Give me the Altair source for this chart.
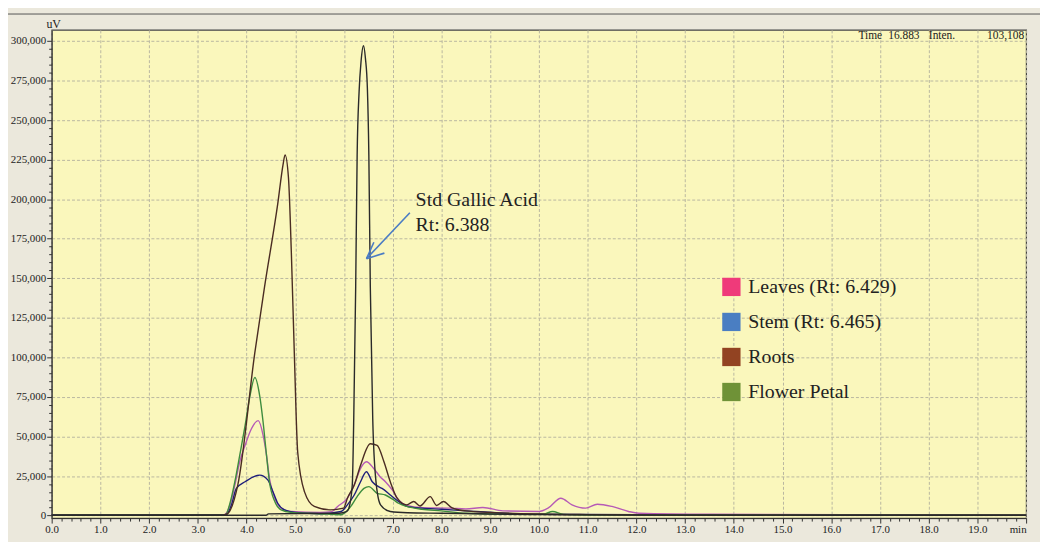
import altair as alt
import pandas as pd

# ---- data (retention time in min, intensity in uV) ----
series_names = ["Leaves", "Stem", "Flower Petal", "Roots", "Std Gallic Acid"]
line_colors = ["#b65ab6", "#1e1e7a", "#3e8c3e", "#4a2c22", "#2a2a2a"]

std_t = [0, 3.5, 4.4, 4.45, 5.9, 6.05, 6.1, 6.17, 6.2, 6.24, 6.27, 6.31, 6.35, 6.40, 6.44, 6.48,
         6.51, 6.54, 6.59, 6.65, 6.75, 6.95, 7.3, 8.0, 9.0, 10.0, 12.0, 20.0]
std_v = [200, 200, 200, 1100, 1500, 2500, 4700, 19300, 61000, 144700, 228000, 268000, 287000, 297000,
         289000, 270000, 228000, 144700, 61000, 23500, 6800, 2600, 1800, 1500, 1000, 600, 300, 200]

roots_t = [0, 3.5, 3.6, 3.82, 4.17, 4.37, 4.64, 4.75, 4.79, 4.86, 4.92, 4.98, 5.05, 5.19, 5.39, 5.72,
           5.99, 6.07, 6.21, 6.34, 6.54, 6.68, 6.82, 6.95, 7.09, 7.29, 7.43, 7.56, 7.77, 7.9, 8.04,
           8.21, 8.5, 9.0, 10.0, 11.0, 13.0, 20.0]
roots_v = [300, 300, 1000, 19300, 103000, 144700, 197000, 222000, 228000, 213700, 165600, 103000,
           40000, 15000, 5800, 3600, 4700, 11000, 19300, 31800, 45400, 44400, 34000, 21400, 11000,
           6800, 8900, 6100, 12000, 6400, 8900, 5100, 3000, 2000, 1000, 600, 300, 200]

leaves_t = [0, 3.5, 3.56, 3.66, 3.76, 3.86, 3.97, 4.1, 4.24, 4.34, 4.41, 4.47, 4.58, 4.71, 4.91, 5.5,
            5.75, 5.87, 6.07, 6.21, 6.34, 6.46, 6.61, 6.74, 6.85, 6.99, 7.12, 7.29, 7.6, 8.17, 8.5,
            8.85, 9.26, 10.0, 10.2, 10.45, 10.68, 10.96, 11.2, 11.5, 11.84, 12.05, 13.5, 20.0]
leaves_v = [300, 300, 800, 6800, 19300, 34000, 44400, 54900, 60000, 50700, 38000, 23500, 11000, 4700,
            2600, 2000, 2500, 5800, 11000, 19300, 29800, 34000, 29800, 24600, 21400, 16200, 9900,
            6400, 5000, 4700, 4200, 5100, 3000, 2600, 5000, 11000, 6800, 4700, 7200, 5800, 2600,
            1500, 800, 300]

stem_t = [0, 3.5, 3.59, 3.69, 3.79, 3.97, 4.27, 4.44, 4.54, 4.64, 4.78, 5.0, 5.5, 5.94, 6.07, 6.21,
          6.34, 6.46, 6.58, 6.71, 6.78, 6.95, 7.12, 7.29, 7.6, 8.0, 8.5, 9.3, 10.0, 12.0, 20.0]
stem_v = [500, 500, 800, 6800, 17200, 21400, 25600, 22400, 15200, 7800, 3600, 2000, 1200, 2600, 6800,
          13000, 21400, 27700, 21400, 18300, 17200, 13000, 8900, 5800, 4700, 4000, 3000, 1500, 800,
          500, 300]

flower_t = [0, 3.5, 3.57, 3.66, 3.76, 3.86, 3.97, 4.07, 4.17, 4.27, 4.34, 4.41, 4.47, 4.58, 4.71,
            4.91, 5.5, 5.93, 6.14, 6.27, 6.41, 6.51, 6.68, 6.85, 7.02, 7.12, 7.29, 7.6, 8.0, 8.5,
            9.5, 10.1, 10.28, 10.5, 11.0, 20.0]
flower_v = [300, 300, 500, 7800, 21400, 38000, 56900, 75700, 87300, 75700, 59000, 38000, 21400, 8900,
            3600, 2000, 1200, 500, 5800, 12000, 17200, 18300, 14100, 13000, 9900, 7800, 5800, 4000,
            3000, 1500, 800, 1000, 2600, 800, 300, 200]

legend_names = ["Leaves (Rt: 6.429)", "Stem (Rt: 6.465)", "Roots", "Flower Petal"]
legend_colors = ["#ef3a7a", "#4a7ec2", "#924322", "#6f9237"]

label_lines = ["Std Gallic Acid", "Rt: 6.388"]
label_t = [7.47, 7.47]
label_v = [195800, 180100]

arrow_t = [7.352, 6.462, 6.462]
arrow_v = [191400, 162400, 162400]
arrow_t2 = [6.462, 6.613, 6.829]
arrow_v2 = [162400, 172800, 165900]

header_texts = ["Time", "16.883", "Inten."]

# ---- build tables ----
rows = []
for name, ts, vs in [("Leaves", leaves_t, leaves_v), ("Stem", stem_t, stem_v),
                     ("Flower Petal", flower_t, flower_v), ("Roots", roots_t, roots_v),
                     ("Std Gallic Acid", std_t, std_v)]:
    for t, v in zip(ts, vs):
        rows.append({"series": name, "t": t, "v": v})
df = pd.DataFrame(rows)

SERIF = "Liberation Serif"
INK = "#222222"
PLOT_FILL = "#faf7bc"

xscale = alt.Scale(domain=[0, 20], nice=False, zero=False)
yscale = alt.Scale(domain=[-1600, 307000], nice=False, zero=False)

major_x = alt.Axis(
    orient="bottom", values=list(range(21)),
    labelExpr="datum.value == 20 ? 'min' : format(datum.value, '.1f')",
    labelAlign={"condition": {"test": "datum.value == 20", "value": "right"}, "value": "center"},
    grid=True, gridDash=[3, 2], gridColor="#b9b7a0", gridWidth=1,
    tickSize=5, tickColor="#333333", domainColor="#333333",
    labelFont=SERIF, labelFontSize=11, labelColor=INK, labelPadding=1,
    labelFlush=False, labelOverlap=False, title=None,
)
major_y = alt.Axis(
    orient="left", values=list(range(0, 300001, 25000)), format=",d",
    grid=True, gridDash=[3, 2], gridColor="#b9b7a0", gridWidth=1,
    tickSize=5, tickColor="#333333", domainColor="#333333",
    labelFont=SERIF, labelFontSize=11, labelColor=INK, labelPadding=1,
    labelFlush=False, labelOverlap=False,
    title="uV", titleAngle=0, titleX=1.5, titleY=-2, titleAlign="center",
    titleBaseline="alphabetic", titleFont=SERIF, titleFontSize=12,
    titleFontWeight="normal", titleColor=INK,
)
minor_x = alt.Axis(
    orient="bottom", values=[round(i * 0.2, 1) for i in range(101) if i % 5 != 0],
    labels=False, grid=False, domain=False, tickSize=3, tickColor="#333333", title=None,
)
minor_y = alt.Axis(
    orient="left", values=[i * 5000 for i in range(61) if i % 5 != 0],
    labels=False, grid=False, domain=False, tickSize=3, tickColor="#333333", title=None,
)

lines = alt.Chart(df).mark_line(strokeWidth=1.4, interpolate="monotone").encode(
    x=alt.X("t:Q", scale=xscale, axis=major_x),
    y=alt.Y("v:Q", scale=yscale, axis=major_y),
    color=alt.Color("series:N", scale=alt.Scale(domain=series_names, range=line_colors),
                    legend=None),
)

minor = alt.Chart(df).mark_point(opacity=0).encode(
    x=alt.X("t:Q", scale=xscale, axis=minor_x),
    y=alt.Y("v:Q", scale=yscale, axis=minor_y),
)

legend_layer = alt.Chart(pd.DataFrame({"name": legend_names})).mark_square(opacity=0).encode(
    color=alt.Color("name:N", scale=alt.Scale(domain=legend_names, range=legend_colors),
                    legend=alt.Legend(
                        orient="none", legendX=675, legendY=249, title=None,
                        symbolType="square", symbolSize=340, symbolStrokeWidth=0,
                        symbolOpacity=1, labelFont=SERIF, labelFontSize=20,
                        labelColor=INK, labelOffset=7, rowPadding=15.3, padding=0,
                        labelLimit=400)),
)

ann_df = pd.DataFrame({"t": label_t, "v": label_v, "text": label_lines})
ann = alt.Chart(ann_df).mark_text(align="left", baseline="alphabetic", font=SERIF,
                                  fontSize=20, color=INK).encode(
    x=alt.X("t:Q", scale=xscale, axis=None),
    y=alt.Y("v:Q", scale=yscale, axis=None),
    text="text:N",
)

arrow_df = pd.DataFrame({"t": arrow_t, "v": arrow_v, "t2": arrow_t2, "v2": arrow_v2})
arrow = alt.Chart(arrow_df).mark_rule(color="#4a7cc4", strokeWidth=1.6).encode(
    x=alt.X("t:Q", scale=xscale, axis=None),
    y=alt.Y("v:Q", scale=yscale, axis=None),
    x2="t2:Q", y2="v2:Q",
)

one = pd.DataFrame({"a": [0]})
head_layers = []
for txt, px in zip(header_texts, [813, 843, 884]):
    head_layers.append(alt.Chart(one).mark_text(
        align="left", baseline="alphabetic", font=SERIF, fontSize=11.5, color=INK).encode(
        x=alt.value(px), y=alt.value(9), text=alt.value(txt)))
head_layers.append(alt.Chart(one).mark_text(
    align="right", baseline="alphabetic", font=SERIF, fontSize=11.5, color=INK).encode(
    x=alt.value(980), y=alt.value(9), text=alt.value("103,108")))
frame_top = alt.Chart(one).mark_rule(color="#555555", strokeWidth=1).encode(
    x=alt.value(-44), x2=alt.value(996), y=alt.value(-16))

chart = alt.layer(
    minor, lines, arrow, ann, *head_layers, frame_top, legend_layer
).resolve_scale(
    color="independent"
).resolve_axis(
    x="independent", y="independent"
).properties(
    width=982, height=492,
    autosize=alt.AutoSizeParams(type="none"),
    padding={"left": 44, "top": 20, "right": 14, "bottom": 22},
    view=alt.ViewBackground(fill=PLOT_FILL, stroke="#444444", strokeWidth=1.2),
).configure(
    background="#ebe8dc",
).configure_view(
    fill=PLOT_FILL, stroke="#444444", strokeWidth=1.2,
)

chart.save("out.html", embed_options={"renderer": "svg", "actions": False})
